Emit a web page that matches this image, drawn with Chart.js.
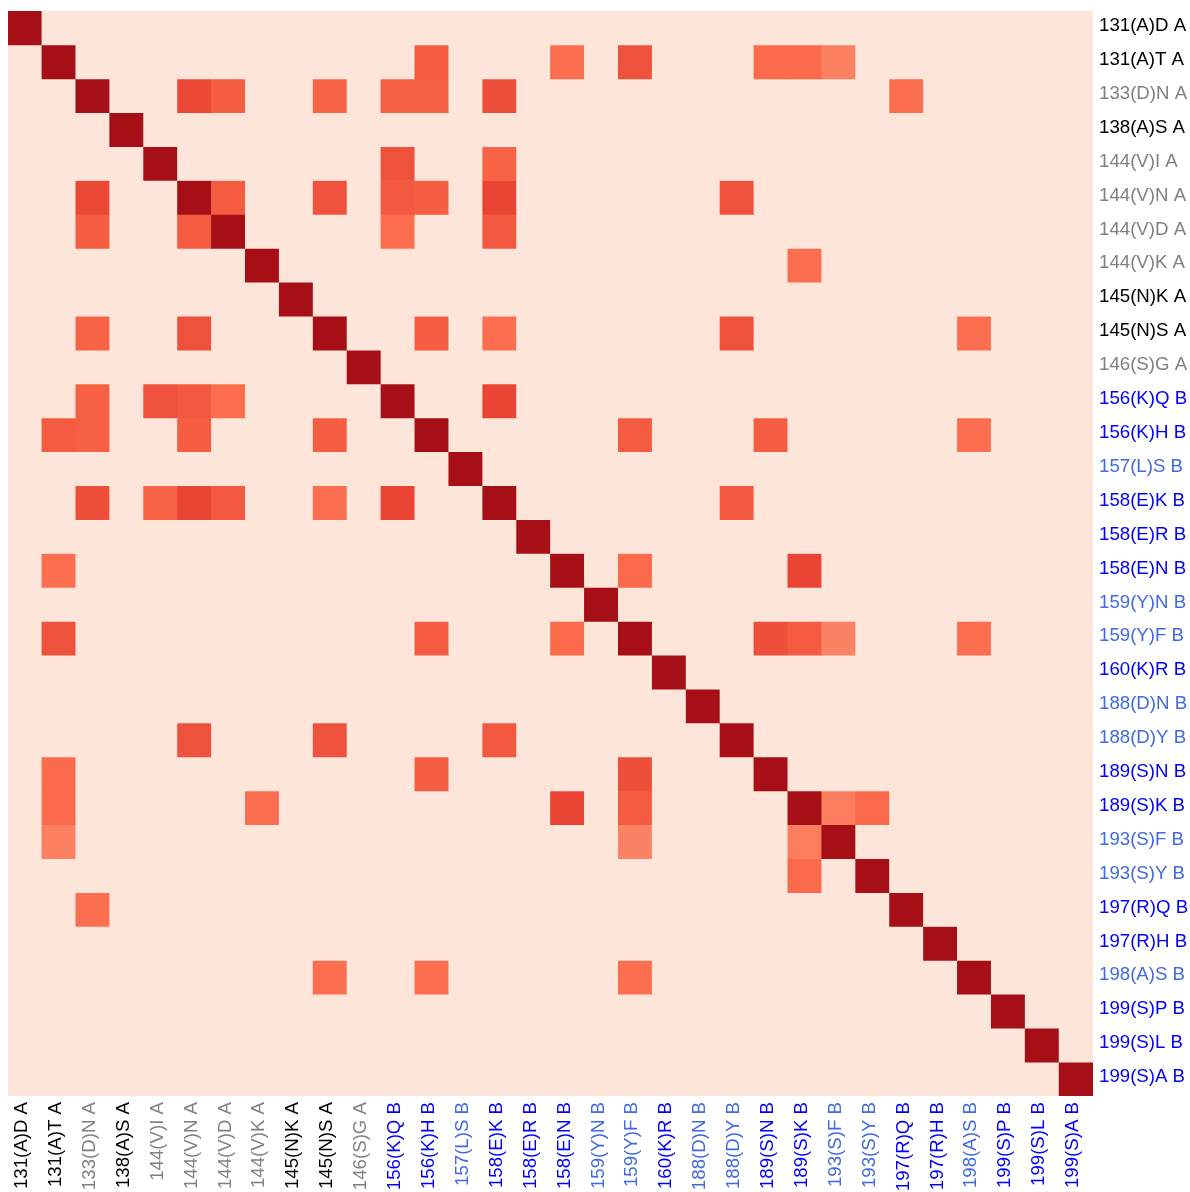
<!DOCTYPE html>
<html>
<head>
<meta charset="utf-8">
<title>Mutation co-occurrence matrix</title>
<script src="https://cdn.jsdelivr.net/npm/chart.js@4/dist/chart.umd.min.js"></script>
<style>
  html, body { margin: 0; padding: 0; background: #ffffff; }
  #wrap { width: 1190px; height: 1192px; position: relative; }
</style>
</head>
<body>
<div id="wrap"><canvas id="chart"></canvas></div>
<script>
// Mutations, in matrix order (rows top to bottom, columns left to right)
const mutations = [
  '131(A)D A', '131(A)T A', '133(D)N A', '138(A)S A', '144(V)I A', '144(V)N A',
  '144(V)D A', '144(V)K A', '145(N)K A', '145(N)S A', '146(S)G A', '156(K)Q B',
  '156(K)H B', '157(L)S B', '158(E)K B', '158(E)R B', '158(E)N B', '159(Y)N B',
  '159(Y)F B', '160(K)R B', '188(D)N B', '188(D)Y B', '189(S)N B', '189(S)K B',
  '193(S)F B', '193(S)Y B', '197(R)Q B', '197(R)H B', '198(A)S B', '199(S)P B',
  '199(S)L B', '199(S)A B'
];

// Label colour for each mutation
const labelColors = [
  '#000000', '#000000', '#808080', '#000000', '#808080', '#808080',
  '#808080', '#808080', '#000000', '#000000', '#808080', '#0000ff',
  '#0000ff', '#4169e1', '#0000ff', '#0000ff', '#0000ff', '#4169e1',
  '#4169e1', '#0000ff', '#4169e1', '#4169e1', '#0000ff', '#0000ff',
  '#4169e1', '#4169e1', '#0000ff', '#0000ff', '#4169e1', '#0000ff',
  '#0000ff', '#0000ff'
];

// Pairwise association scores (row index, column index, score); the matrix is symmetric
const pairScores = [
  [1, 12, 0.56], [1, 16, 0.48], [1, 18, 0.60], [1, 22, 0.50], [1, 23, 0.50], [1, 24, 0.42],
  [2, 5, 0.64], [2, 6, 0.55], [2, 9, 0.53], [2, 11, 0.54], [2, 12, 0.54], [2, 14, 0.61], [2, 26, 0.48],
  [4, 11, 0.60], [4, 14, 0.53],
  [5, 6, 0.56], [5, 9, 0.60], [5, 11, 0.57], [5, 12, 0.55], [5, 14, 0.65], [5, 21, 0.60],
  [6, 11, 0.49], [6, 14, 0.57],
  [7, 23, 0.48],
  [9, 12, 0.55], [9, 14, 0.48], [9, 21, 0.60], [9, 28, 0.48],
  [11, 14, 0.65],
  [12, 18, 0.56], [12, 22, 0.55], [12, 28, 0.48],
  [14, 21, 0.57],
  [16, 18, 0.50], [16, 23, 0.65],
  [18, 22, 0.61], [18, 23, 0.56], [18, 24, 0.41], [18, 28, 0.48],
  [23, 24, 0.43], [23, 25, 0.50]
];

// Self-association on the diagonal
const diagonalScore = 1.0;

// Sequential red colour scale
const scaleStops = [0, 0.25, 0.5, 0.75, 1];
const scaleColors = ['#fee5d9', '#fcae91', '#fb6a4a', '#de2d26', '#a50f15'];

function hexToRgb(h) {
  return [parseInt(h.slice(1, 3), 16), parseInt(h.slice(3, 5), 16), parseInt(h.slice(5, 7), 16)];
}
function scoreColor(v) {
  v = Math.max(0, Math.min(1, v));
  let i = 0;
  while (i < scaleStops.length - 2 && v > scaleStops[i + 1]) i++;
  const t = (v - scaleStops[i]) / (scaleStops[i + 1] - scaleStops[i]);
  const a = hexToRgb(scaleColors[i]), b = hexToRgb(scaleColors[i + 1]);
  const c = a.map((x, k) => Math.round(x + (b[k] - x) * t));
  return `rgb(${c[0]},${c[1]},${c[2]})`;
}

// Full score matrix
const n = mutations.length;
const matrix = Array.from({ length: n }, (_, r) => Array.from({ length: n }, (_, c) => (r === c ? diagonalScore : 0)));
pairScores.forEach(([r, c, v]) => { matrix[r][c] = v; matrix[c][r] = v; });

// One floating-bar dataset per row: every column spans [row, row + 1] on the value axis
const datasets = matrix.map((row, r) => ({
  label: mutations[r],
  data: row.map(() => [r, r + 1]),
  backgroundColor: row.map(scoreColor),
  borderWidth: 0,
  barPercentage: 1.0,
  categoryPercentage: 1.0,
  grouped: false
}));

const tickFont = { family: '"Liberation Sans", Arial, sans-serif', size: 18.67 };

// Fill the plot area with the zero colour so cell edges blend
const plotBackground = {
  id: 'plotBackground',
  beforeDatasetsDraw(chart) {
    const { ctx, chartArea: a } = chart;
    ctx.save();
    ctx.fillStyle = scoreColor(0);
    ctx.fillRect(a.left, a.top, a.right - a.left, a.bottom - a.top);
    ctx.restore();
  }
};

new Chart(document.getElementById('chart'), {
  type: 'bar',
  data: { labels: mutations, datasets },
  plugins: [plotBackground],
  options: {
    responsive: true,
    maintainAspectRatio: false,
    animation: false,
    layout: { padding: { left: 8, top: 11, right: 0, bottom: 0 } },
    plugins: { legend: { display: false }, tooltip: { enabled: false } },
    scales: {
      x: {
        type: 'category',
        position: 'bottom',
        offset: true,
        grid: { display: false, drawTicks: false },
        border: { display: false },
        ticks: {
          autoSkip: false,
          minRotation: 90,
          maxRotation: 90,
          padding: 6,
          labelOffset: -3,
          font: tickFont,
          color: (ctx) => labelColors[ctx.index]
        },
        afterFit: (s) => { s.height = 96; s.paddingLeft = 0; s.paddingRight = 0; }
      },
      y: {
        type: 'linear',
        min: 0,
        max: n,
        reverse: true,
        display: false
      },
      yLabels: {
        type: 'category',
        axis: 'y',
        labels: mutations,
        position: 'right',
        offset: true,
        grid: { display: false, drawTicks: false },
        border: { display: false },
        ticks: {
          autoSkip: false,
          padding: 6,
          labelOffset: -2,
          font: tickFont,
          color: (ctx) => labelColors[ctx.index]
        },
        afterFit: (s) => { s.width = 97; s.paddingTop = 0; s.paddingBottom = 0; }
      }
    }
  }
});
</script>
</body>
</html>
